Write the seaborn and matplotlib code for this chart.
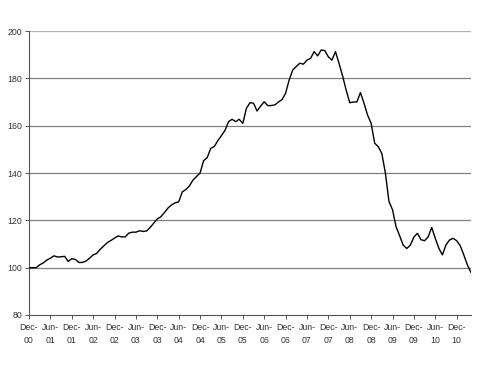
import numpy as np
import pandas as pd
import matplotlib
matplotlib.use('Agg')
import matplotlib.pyplot as plt
import seaborn as sns

# monthly index, Dec 2000 = 100
values = [100, 100, 100, 101.2, 102, 103.2, 104, 105, 104.5, 104.6,
          104.8, 102.6, 103.8, 103.5, 102.2, 102.2, 102.8, 104, 105.4, 106,
          107.8, 109.2, 110.6, 111.5, 112.5, 113.4, 113, 113, 114.6, 115,
          115, 115.6, 115.3, 115.5, 117, 118.8, 120.6, 121.5, 123.3, 125.2,
          126.5, 127.4, 127.8, 132, 133, 134.5, 137, 138.5, 140, 145.2,
          146.5, 150.4, 151.2, 153.7, 155.8, 158, 161.7, 162.7, 161.7, 162.7,
          161, 167.3, 169.7, 169.5, 166.2, 168.3, 170.1, 168.5, 168.5, 168.8,
          170, 171, 173.7, 179.3, 183.5, 185, 186.4, 186, 187.7, 188.4,
          191.3, 189.5, 192, 191.7, 189.1, 187.7, 191.3, 186.3, 181, 175,
          169.7, 170, 170, 174, 169.5, 164.5, 161, 152.6, 151.1, 148.3,
          140, 128, 124.5, 117.3, 113.5, 109.5, 108.1, 109.5, 113, 114.5,
          111.8, 111.4, 113, 117, 112.4, 108.2, 105.4, 109.6, 111.7, 112.4,
          111.4, 109.3, 105.4, 101.2, 98]
tick_labels = ['Dec-\n00', 'Jun-\n01', 'Dec-\n01', 'Jun-\n02', 'Dec-\n02', 'Jun-\n03',
               'Dec-\n03', 'Jun-\n04', 'Dec-\n04', 'Jun-\n05', 'Dec-\n05', 'Jun-\n06',
               'Dec-\n06', 'Jun-\n07', 'Dec-\n07', 'Jun-\n08', 'Dec-\n08', 'Jun-\n09',
               'Dec-\n09', 'Jun-\n10', 'Dec-\n10']
y_ticks = [80, 100, 120, 140, 160, 180, 200]

df = pd.DataFrame({'month': np.arange(len(values)), 'index': values})

sns.set_style('white')
plt.rcParams['font.family'] = ['Liberation Sans', 'DejaVu Sans']

fig = plt.figure(figsize=(4.89, 3.67), dpi=100)
ax = fig.add_axes([0.0593, 0.1417, 0.9037, 0.7738])

for v in y_ticks[1:]:
    ax.axhline(v, color='#808080' if v < 200 else '#b0b0b0', lw=0.9, zorder=1)

sns.lineplot(data=df, x='month', y='index', color='black', lw=1.0, ax=ax, zorder=3)

ax.set_xlim(0, len(values) - 1)
ax.set_ylim(80, 200)
ax.set_xticks(np.arange(0, 6 * len(tick_labels), 6))
ax.set_xticklabels(tick_labels, linespacing=1.5)
ax.set_yticks(y_ticks)
ax.set_xlabel('')
ax.set_ylabel('')

for s in ['top', 'right']:
    ax.spines[s].set_visible(False)
for s in ['left', 'bottom']:
    ax.spines[s].set_color('#555555')
    ax.spines[s].set_linewidth(0.8)

ax.tick_params(axis='both', which='both', direction='out', length=3, width=0.7,
               color='#555555', labelsize=6.3, labelcolor='#333333', pad=2)
ax.tick_params(axis='x', bottom=True, pad=3)
ax.tick_params(axis='y', left=True)

fig.savefig('out.png', dpi=100)
